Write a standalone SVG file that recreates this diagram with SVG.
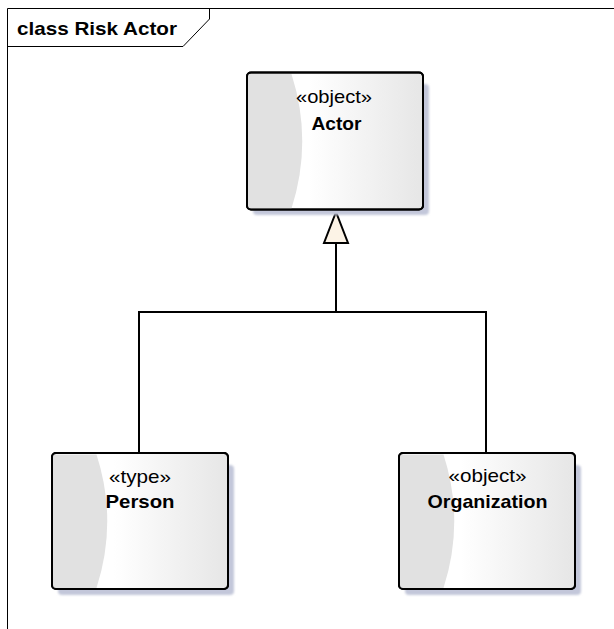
<svg xmlns="http://www.w3.org/2000/svg" width="614" height="629" viewBox="0 0 614 629">
<defs>
<style>
.frame{fill:none;stroke:#000;stroke-width:1}
.box{stroke:#000;stroke-width:2;fill:url(#g)}
.shadow{fill:#c3c7da}
.crest{fill:#e1e1e1}
.st{font-family:"Liberation Sans",Arial,sans-serif;font-size:18.5px;fill:#000;text-anchor:middle}
.nm{font-family:"Liberation Sans",Arial,sans-serif;font-size:18.5px;font-weight:bold;fill:#000;text-anchor:middle}
.ttl{font-family:"Liberation Sans",Arial,sans-serif;font-size:18.5px;font-weight:bold;fill:#000}
.conn{fill:none;stroke:#000;stroke-width:2}
</style>
<linearGradient id="g" x1="0" y1="0" x2="1" y2="0">
<stop offset="0" stop-color="#ffffff"/>
<stop offset="0.35" stop-color="#ffffff"/>
<stop offset="1" stop-color="#e6e6e6"/>
</linearGradient>
<filter id="blur" x="-10%" y="-10%" width="120%" height="120%">
<feGaussianBlur stdDeviation="0.8"/>
</filter>
</defs>
<rect width="614" height="629" fill="#fff"/>
<g id="frame">
<path class="frame" d="M7.5,629 V8.5 H614"/>
<path class="frame" d="M7.5,46.5 H183 L209.5,19 V8.5"/>
<text class="ttl" x="17" y="35" textLength="160" lengthAdjust="spacingAndGlyphs">class Risk Actor</text>
</g>
<g id="connectors">
<path class="conn" d="M336,243 V312 M139,453 V312 H486 V453"/>
<polygon points="336,212 324,243 348,243" fill="#fcf3e6" stroke="#000" stroke-width="2" stroke-linejoin="miter"/>
</g>
<g id="actor">
<rect class="shadow" x="253" y="84" width="176" height="131" rx="4" filter="url(#blur)"/>
<rect class="box" x="247" y="72.5" width="176" height="137" rx="4"/>
<path class="crest" d="M248,74 H291.5 Q313,141 291.5,208.5 H248 Z"/>
<rect x="247" y="72.5" width="176" height="137" rx="4" fill="none" stroke="#000" stroke-width="2"/>
<text class="st" x="334" y="103" textLength="76" lengthAdjust="spacingAndGlyphs">«object»</text>
<text class="nm" x="336.5" y="130" textLength="50" lengthAdjust="spacingAndGlyphs">Actor</text>
</g>
<g id="person">
<rect class="shadow" x="58" y="465" width="176" height="130" rx="4" filter="url(#blur)"/>
<rect class="box" x="52" y="453" width="176" height="136" rx="4"/>
<path class="crest" d="M53,454.5 H96.5 Q118,521 96.5,588 H53 Z"/>
<rect x="52" y="453" width="176" height="136" rx="4" fill="none" stroke="#000" stroke-width="2"/>
<text class="st" x="140" y="483" textLength="62" lengthAdjust="spacingAndGlyphs">«type»</text>
<text class="nm" x="140" y="508" textLength="69" lengthAdjust="spacingAndGlyphs">Person</text>
</g>
<g id="organization">
<rect class="shadow" x="405" y="465" width="176" height="130" rx="4" filter="url(#blur)"/>
<rect class="box" x="399" y="453" width="176" height="136" rx="4"/>
<path class="crest" d="M400,454.5 H443.5 Q465,521 443.5,588 H400 Z"/>
<rect x="399" y="453" width="176" height="136" rx="4" fill="none" stroke="#000" stroke-width="2"/>
<text class="st" x="487.5" y="482" textLength="78" lengthAdjust="spacingAndGlyphs">«object»</text>
<text class="nm" x="487.5" y="508" textLength="120" lengthAdjust="spacingAndGlyphs">Organization</text>
</g>
</svg>
